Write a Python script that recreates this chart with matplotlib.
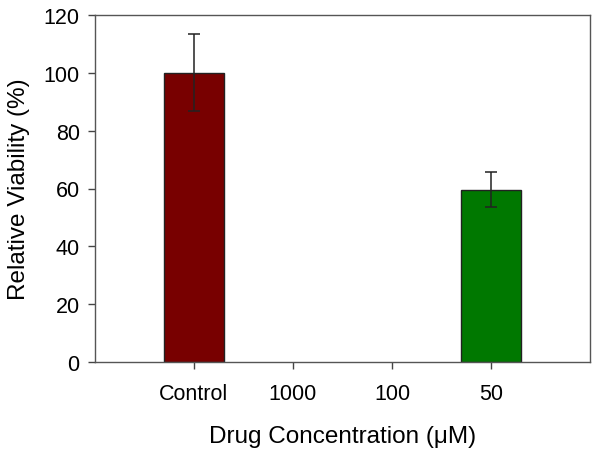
import matplotlib
matplotlib.use("Agg")
import matplotlib.pyplot as plt

categories = ["Control", "1000", "100", "50"]
values = [100.0, 0.0, 0.0, 59.6]
errors = [13.3, 0.0, 0.0, 6.1]
colors = ["#780000", "#780000", "#007800", "#007800"]
present = [True, False, False, True]

plt.rcParams['font.family'] = ['Liberation Sans', 'DejaVu Sans']

fig = plt.figure(figsize=(5.95, 4.52), dpi=100)
ax = fig.add_axes([95/595, 1 - 363/452, (590-95)/595, (363-16)/452])

xs = list(range(len(categories)))
for x, v, e, c, p in zip(xs, values, errors, colors, present):
    if not p:
        continue
    ax.bar(x, v, width=0.6, color=c, edgecolor="#222222", linewidth=1.0, zorder=2)
    ax.errorbar(x, v, yerr=e, fmt="none", ecolor="#222222", elinewidth=1.1,
                capsize=4.5, capthick=1.1, zorder=3)

ax.set_xlim(-1.0, 4.0)
ax.set_ylim(0, 120)
ax.set_yticks([0, 20, 40, 60, 80, 100, 120])
ax.set_xticks(xs)
ax.set_xticklabels(categories)
ax.tick_params(axis="y", direction="out", length=5, width=1, labelsize=15.5, color="#444444", pad=6)
ax.tick_params(axis="x", direction="out", length=5, width=1, labelsize=15.5, color="#444444", pad=10)
for s in ax.spines.values():
    s.set_color("#555555")
    s.set_linewidth(1.0)

ax.set_xlabel("Drug Concentration (\u03bcM)", fontsize=17.5, labelpad=15)
ax.set_ylabel("Relative Viability (%)", fontsize=17.5, labelpad=10)

fig.savefig("out.png", dpi=100)
